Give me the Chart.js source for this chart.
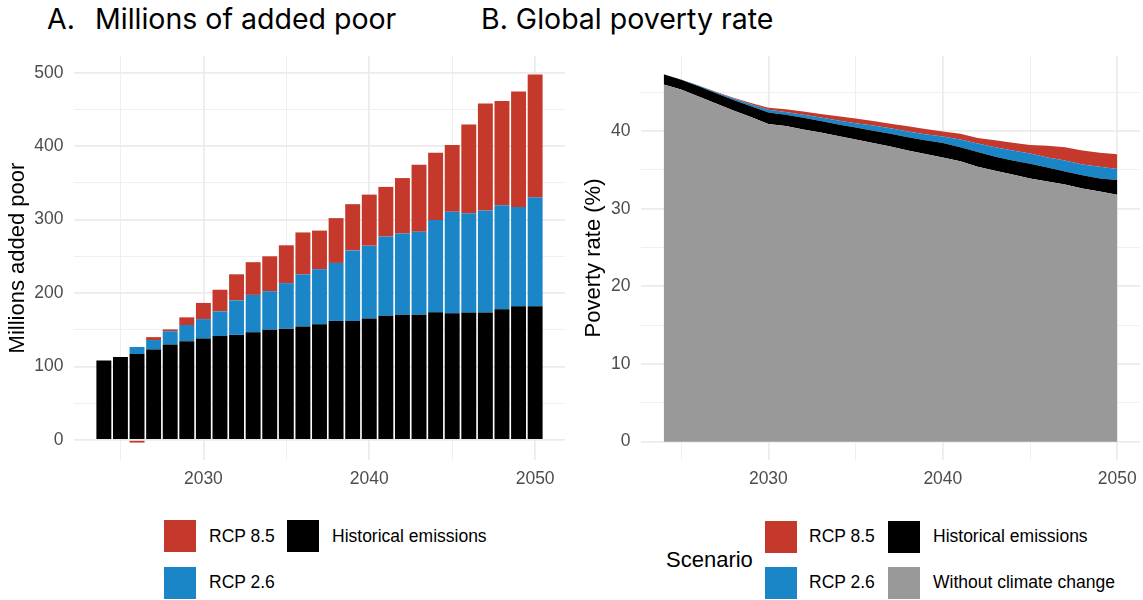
<!DOCTYPE html>
<html>
<head>
<meta charset="utf-8">
<script src="https://cdn.jsdelivr.net/npm/chart.js@4.4.1/dist/chart.umd.min.js"></script>
<style>
  html, body { margin: 0; padding: 0; background: #ffffff; width: 1143px; height: 600px; overflow: hidden; }
  body { position: relative; font-family: "Liberation Sans", Arial, sans-serif; }
  .title { position: absolute; top: 5px; font-family: Inter, "Noto Sans", sans-serif; font-size: 28.5px; line-height: 1; color: #000; white-space: pre; }
  .panel { position: absolute; top: 0; height: 500px; }
  .key { position: absolute; width: 32px; height: 32px; }
  .lab { position: absolute; font-size: 17.5px; line-height: 1; color: #000; white-space: pre; transform: translateY(-50%); }
  .ltitle { position: absolute; font-size: 22px; line-height: 1; color: #000; transform: translateY(-50%); }
</style>
</head>
<body>
<div class="title" style="left:47px">A.</div>
<div class="title" style="left:95px">Millions of added poor</div>
<div class="title" style="left:481px">B. Global poverty rate</div>

<canvas id="chartA" class="panel" style="left:0" width="575" height="500"></canvas>
<canvas id="chartB" class="panel" style="left:575px" width="568" height="500"></canvas>

<!-- legend, panel A -->
<div class="key" style="left:164px;top:520px;background:#c4392b"></div>
<div class="lab" style="left:209px;top:537px">RCP 8.5</div>
<div class="key" style="left:164px;top:567px;background:#1a86c8"></div>
<div class="lab" style="left:209px;top:583px">RCP 2.6</div>
<div class="key" style="left:287px;top:520px;background:#000000"></div>
<div class="lab" style="left:332px;top:537px">Historical emissions</div>

<!-- legend, panel B -->
<div class="ltitle" style="left:666px;top:560px">Scenario</div>
<div class="key" style="left:765px;top:521px;background:#c4392b"></div>
<div class="lab" style="left:809px;top:537px">RCP 8.5</div>
<div class="key" style="left:765px;top:567px;background:#1a86c8"></div>
<div class="lab" style="left:809px;top:583px">RCP 2.6</div>
<div class="key" style="left:888px;top:521px;background:#000000"></div>
<div class="lab" style="left:933px;top:537px">Historical emissions</div>
<div class="key" style="left:888px;top:567px;background:#999999"></div>
<div class="lab" style="left:933px;top:583px">Without climate change</div>

<script>
// Years shared by both panels
const years = [2024, 2025, 2026, 2027, 2028, 2029, 2030, 2031, 2032, 2033, 2034, 2035, 2036, 2037,
               2038, 2039, 2040, 2041, 2042, 2043, 2044, 2045, 2046, 2047, 2048, 2049, 2050];

// Panel A: millions of added poor, stacked by scenario increment
const addedHistorical = [108, 113, 117, 123, 130, 134.5, 138, 141.5, 143, 146.5, 150, 151.5, 154.5, 157.5,
                         162, 162, 165.5, 169, 170.5, 170.5, 174, 172.5, 173.5, 173.5, 178, 182, 182];
const addedRcp26      = [0, 0, 9.6, 13, 18, 22, 26.5, 33.5, 47, 51, 52.5, 62, 71, 75,
                         79, 96, 99, 108, 110.5, 113, 125.5, 138, 135, 139, 141.5, 135, 148.5];
const addedRcp85      = [0, 0, -3.6, 4, 2.5, 10.4, 22, 29.5, 35.5, 44.5, 47.5, 51.5, 57, 52.5,
                         61, 63, 69.5, 67.5, 75.5, 91, 91.5, 91, 121, 145.5, 142, 157.5, 167];

// Panel B: global poverty rate (%), stacked layers
const rateBaseline    = [46.0, 45.35, 44.45, 43.55, 42.65, 41.8, 40.9, 40.65, 40.2, 39.8, 39.35, 38.9, 38.45, 38.0,
                         37.5, 37.05, 36.6, 36.1, 35.4, 34.9, 34.4, 33.9, 33.5, 33.1, 32.6, 32.2, 31.8];
const rateHistorical  = [1.3, 1.25, 1.3, 1.3, 1.35, 1.4, 1.5, 1.45, 1.5, 1.5, 1.5, 1.55, 1.6, 1.65,
                         1.7, 1.75, 1.85, 1.8, 1.9, 1.8, 1.8, 1.9, 1.8, 1.7, 1.7, 1.7, 1.9];
const rateRcp26       = [0, 0.05, 0.1, 0.15, 0.2, 0.25, 0.35, 0.35, 0.4, 0.45, 0.5, 0.55, 0.65, 0.7,
                         0.75, 0.8, 0.85, 1.0, 1.1, 1.2, 1.3, 1.3, 1.3, 1.4, 1.4, 1.5, 1.4];
const rateRcp85       = [0, 0, 0, 0.05, 0.1, 0.15, 0.25, 0.35, 0.4, 0.45, 0.55, 0.6, 0.6, 0.6,
                         0.65, 0.65, 0.65, 0.75, 0.7, 0.9, 1.0, 1.1, 1.5, 1.7, 1.8, 1.8, 1.9];

// Axis ticks
const xGridYears   = [2025, 2030, 2035, 2040, 2045, 2050];
const xLabelYears  = [2030, 2040, 2050];
const yGridA       = [0, 50, 100, 150, 200, 250, 300, 350, 400, 450, 500];
const yLabelA      = [0, 100, 200, 300, 400, 500];
const yGridB       = [0, 5, 10, 15, 20, 25, 30, 35, 40, 45];
const yLabelB      = [0, 10, 20, 30, 40];

const RED = '#c4392b', BLUE = '#1a86c8', BLACK = '#000000', GREY = '#999999';
const GRID = '#ebebeb';
const tickFont = { family: '"Liberation Sans", Arial, sans-serif', size: 17.5 };
const titleFont = { family: '"Liberation Sans", Arial, sans-serif', size: 22 };

const pts = (vals) => years.map((x, i) => ({ x, y: vals[i] }));

function gridStyle(labelled) {
  return {
    drawTicks: false,
    color: (ctx) => labelled.includes(ctx.tick && ctx.tick.value) ? GRID : '#efefef',
    lineWidth: (ctx) => labelled.includes(ctx.tick && ctx.tick.value) ? 1.7 : 1
  };
}

function xScale(min, max) {
  return {
    type: 'linear', min, max, stacked: true, offset: false,
    grid: Object.assign({ offset: false }, gridStyle(xLabelYears)),
    border: { display: false },
    afterBuildTicks: (axis) => { axis.ticks = xGridYears.map(v => ({ value: v })); },
    ticks: {
      autoSkip: false, maxRotation: 0, padding: 9, color: '#4d4d4d', font: tickFont,
      callback: (v) => xLabelYears.includes(v) ? String(v) : ''
    },
    afterFit: (axis) => {
      axis.height = 40;
      axis.paddingLeft = 0;
      axis.paddingRight = 0;
    }
  };
}

function yScale(min, max, gridVals, labelVals, title, width, titlePad) {
  return {
    type: 'linear', min, max, stacked: true,
    grid: gridStyle(labelVals),
    border: { display: false },
    afterBuildTicks: (axis) => { axis.ticks = gridVals.map(v => ({ value: v })); },
    ticks: {
      autoSkip: false, padding: 10.5, color: '#4d4d4d', font: tickFont,
      callback: (v) => labelVals.includes(v) ? String(v) : ''
    },
    title: { display: true, text: title, color: '#000', font: titleFont, padding: { top: titlePad, bottom: 0 } },
    afterFit: (axis) => {
      axis.width = width;
      axis.paddingTop = 0;
      axis.paddingBottom = 0;
    }
  };
}

const common = {
  responsive: false,
  animation: false,
  devicePixelRatio: 1,
  plugins: { legend: { display: false }, tooltip: { enabled: false } }
};

// Panel A: stacked bars
new Chart(document.getElementById('chartA'), {
  type: 'bar',
  data: {
    datasets: [
      { label: 'Historical emissions', data: pts(addedHistorical), backgroundColor: BLACK },
      { label: 'RCP 2.6', data: pts(addedRcp26), backgroundColor: BLUE },
      { label: 'RCP 8.5', data: pts(addedRcp85), backgroundColor: RED }
    ]
  },
  options: Object.assign({}, common, {
    layout: { padding: { left: 0, top: 56, right: 10, bottom: 0 } },
    datasets: { bar: { barPercentage: 0.9, categoryPercentage: 1, borderWidth: 0 } },
    scales: {
      x: xScale(2022.2, 2051.8),
      y: yScale(-27.3, 522.7, yGridA, yLabelA, 'Millions added poor', 74, 4.8)
    }
  })
});

// Panel B: stacked areas
const areaSet = (label, vals, color, fill) => ({
  label, data: pts(vals), backgroundColor: color, borderColor: 'rgba(0,0,0,0)',
  borderWidth: 0, pointRadius: 0, tension: 0, fill
});

new Chart(document.getElementById('chartB'), {
  type: 'line',
  data: {
    datasets: [
      areaSet('Without climate change', rateBaseline, GREY, 'origin'),
      areaSet('Historical emissions', rateHistorical, BLACK, '-1'),
      areaSet('RCP 2.6', rateRcp26, BLUE, '-1'),
      areaSet('RCP 8.5', rateRcp85, RED, '-1')
    ]
  },
  options: Object.assign({}, common, {
    layout: { padding: { left: 0, top: 56, right: 3, bottom: 0 } },
    scales: {
      x: xScale(2022.7, 2051.3),
      y: yScale(-2.36, 49.66, yGridB, yLabelB, 'Poverty rate (%)', 66, 5.8)
    }
  })
});
</script>
</body>
</html>
